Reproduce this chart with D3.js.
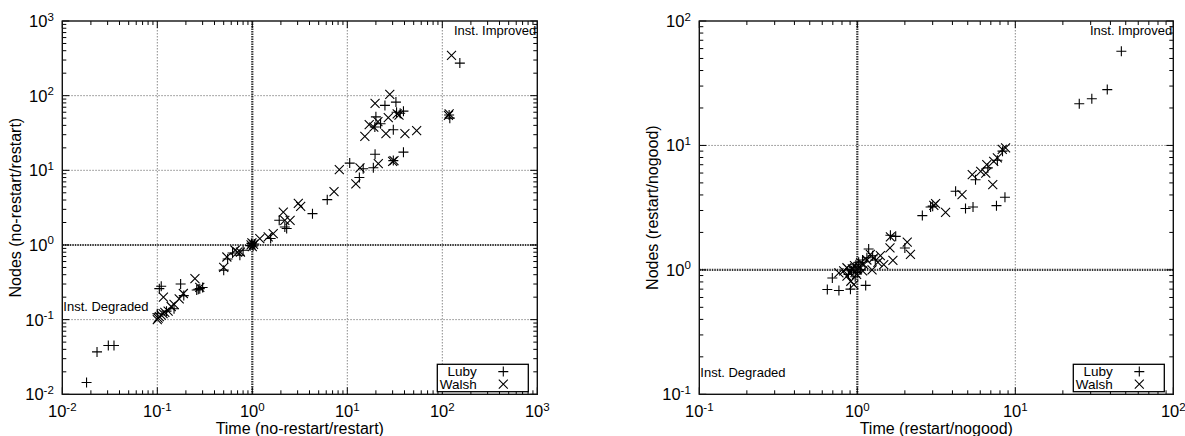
<!DOCTYPE html>
<html>
<head>
<meta charset="utf-8">
<script src="https://cdn.jsdelivr.net/npm/d3@7"></script>
<style>
  body { margin: 0; background: #fff; }
  svg text { font-family: "Liberation Sans", Arial, Helvetica, sans-serif; fill: #000; }
</style>
</head>
<body>
<div id="graph"></div>
<script>
// ---- data ----
// left panel: no-restart vs restart, [time ratio, nodes ratio]
var lubyLeft = [
  [0.018,0.0144],[0.0232,0.037],[0.0305,0.045],[0.035,0.045],
  [0.10,0.12],[0.105,0.26],[0.11,0.28],[0.125,0.13],[0.15,0.14],[0.176,0.30],[0.19,0.21],
  [0.26,0.25],[0.28,0.26],[0.30,0.27],[0.27,0.255],
  [0.5,0.46],[0.55,0.65],[0.62,0.78],[0.74,0.73],[0.8,0.85],
  [0.95,0.98],[1.0,1.0],[1.02,0.97],[0.98,1.05],[1.05,1.03],
  [1.56,1.22],[1.92,2.14],[2.2,1.74],[2.3,1.66],
  [4.3,2.63],[6.15,4.05],[10.6,12.5],[13.4,8.0],[14.7,10.5],[18.8,10.8],[19.6,16.4],[30.5,13.5],[39,17.5],
  [19.5,38],[20,52],[22.4,42],[24.9,74],[30.5,35],[32.5,82],[39,62],[36,58],[33,60],
  [118,55],[120,50],[153,273]
];
var walshLeft = [
  [0.1,0.1],[0.102,0.105],[0.105,0.11],[0.11,0.115],[0.115,0.12],[0.12,0.125],[0.13,0.13],[0.14,0.15],[0.15,0.16],
  [0.116,0.2],[0.17,0.19],[0.188,0.224],[0.249,0.355],[0.28,0.27],
  [0.5,0.5],[0.54,0.69],[0.66,0.85],[0.7,0.8],[0.75,0.8],
  [0.97,1.0],[1.0,0.95],[1.03,1.02],[0.99,1.07],
  [1.2,1.22],[1.47,1.28],[1.66,1.42],[2.12,2.76],[2.2,2.14],[2.5,2.14],[3.05,3.6],[3.23,3.3],
  [7.25,5.2],[8.24,10.2],[12.3,6.6],[13.6,10.8],[21.2,12.3],[30,13.2],[31,13.5],
  [15.3,28.5],[17,41],[19,38],[27,50.8],[25.5,31],[28,104],[19.6,79],[33.5,57],[40.4,31],[53.7,34],[35,55],[21,45],
  [116,54.5],[118,57],[125,346]
];
// right panel: restart vs nogood
var lubyRight = [
  [0.646,0.695],[0.695,0.86],[0.765,0.682],[0.905,0.70],[1.13,0.75],
  [0.88,0.92],[0.92,0.98],[0.95,1.05],[0.98,1.1],[1.0,0.95],[1.02,1.15],[1.05,1.0],[0.9,1.0],
  [1.08,1.2],[1.15,1.25],[1.18,1.47],[1.25,1.3],[1.3,1.2],[0.97,0.88],
  [1.62,1.9],[1.75,1.86],[2.0,1.5],[2.58,2.73],[2.91,3.2],[3.0,3.25],[4.19,4.28],[4.84,3.11],[5.4,3.2],
  [5.6,5.3],[6.7,6.6],[7.6,3.28],[8.6,3.83],[8.3,9.0],[7.7,7.6],
  [25.4,21.6],[30.5,23.7],[38.2,28.1],[46.9,57.2]
];
var walshRight = [
  [0.765,0.946],[0.86,0.89],[0.86,1.04],[0.91,0.81],[0.95,0.76],[0.82,0.98],
  [0.9,0.95],[0.93,1.02],[0.96,1.08],[0.99,0.92],[1.0,1.0],[1.03,1.06],[1.05,1.14],[1.08,0.98],[1.1,1.1],
  [1.21,1.33],[1.27,1.25],[1.24,1.0],[1.35,1.15],[1.47,1.10],[1.4,1.3],[1.15,1.2],
  [1.61,1.5],[1.62,1.84],[1.68,1.19],[2.07,1.67],[2.17,1.33],
  [3.13,3.41],[3.05,3.3],[3.62,2.9],[4.6,4.03],[5.34,5.83],[6.04,6.2],[6.5,6.0],[6.6,7.0],
  [7.2,4.85],[7.3,7.45],[7.7,7.95],[8.27,9.28],[8.68,9.57]
];
var seriesNames = ["Luby", "Walsh"];
var panels = [
  {left: 62.3, right: 537.3, xDom: [0.01, 1000], yDom: [0.01, 1000],
   xTitle: "Time (no-restart/restart)", yTitle: "Nodes (no-restart/restart)", yTitleX: 15,
   luby: lubyLeft, walsh: walshLeft, degradedY: 311},
  {left: 699.3, right: 1173.3, xDom: [0.1, 100], yDom: [0.1, 100],
   xTitle: "Time (restart/nogood)", yTitle: "Nodes (restart/nogood)", yTitleX: 652,
   luby: lubyRight, walsh: walshRight, degradedY: 376.5}
];
var plotTop = 21, plotBottom = 394.3;

var svg = d3.select("#graph").append("svg")
  .attr("width", 1185).attr("height", 436);

function sup(sel, e) {
  sel.append("tspan").text("10");
  sel.append("tspan").attr("dy", -6.5).style("font-size", "11.5px").text(e);
}

panels.forEach(function(p) {
  var x = d3.scaleLog().domain(p.xDom).range([p.left, p.right]);
  var y = d3.scaleLog().domain(p.yDom).range([plotBottom, plotTop]);
  var g = svg.append("g");
  var xMaj = d3.range(Math.log10(p.xDom[0]), Math.log10(p.xDom[1]) + 1).map(function(e){ return Math.pow(10, Math.round(e)); });
  var yMaj = d3.range(Math.log10(p.yDom[0]), Math.log10(p.yDom[1]) + 1).map(function(e){ return Math.pow(10, Math.round(e)); });
  var isMaj = function(v) { return Math.abs(Math.log10(v) - Math.round(Math.log10(v))) < 1e-6; };

  // grid
  g.selectAll(".gx").data(xMaj.slice(1, -1).filter(function(v){ return v != 1; })).enter().append("line")
    .attr("x1", x).attr("x2", x).attr("y1", plotTop).attr("y2", plotBottom)
    .attr("stroke", "#8a8a8a").attr("stroke-width", 1).attr("stroke-dasharray", "1.5,1.5");
  g.selectAll(".gy").data(yMaj.slice(1, -1).filter(function(v){ return v != 1; })).enter().append("line")
    .attr("y1", y).attr("y2", y).attr("x1", p.left).attr("x2", p.right)
    .attr("stroke", "#8a8a8a").attr("stroke-width", 1).attr("stroke-dasharray", "1.5,1.5");
  // the 1:1 lines
  g.append("line").attr("x1", x(1)).attr("x2", x(1)).attr("y1", plotTop).attr("y2", plotBottom)
    .attr("stroke", "#333").attr("stroke-width", 2.2).attr("stroke-dasharray", "1.5,1");
  g.append("line").attr("y1", y(1)).attr("y2", y(1)).attr("x1", p.left).attr("x2", p.right)
    .attr("stroke", "#333").attr("stroke-width", 2.2).attr("stroke-dasharray", "1.5,1");

  // ticks (mirrored, with minors)
  x.ticks().forEach(function(v) {
    var len = isMaj(v) ? 7 : 4;
    g.append("line").attr("x1", x(v)).attr("x2", x(v)).attr("y1", plotBottom).attr("y2", plotBottom - len).attr("stroke", "#000");
    g.append("line").attr("x1", x(v)).attr("x2", x(v)).attr("y1", plotTop).attr("y2", plotTop + len).attr("stroke", "#000");
  });
  y.ticks().forEach(function(v) {
    var len = isMaj(v) ? 7 : 4;
    g.append("line").attr("y1", y(v)).attr("y2", y(v)).attr("x1", p.left).attr("x2", p.left + len).attr("stroke", "#000");
    g.append("line").attr("y1", y(v)).attr("y2", y(v)).attr("x1", p.right).attr("x2", p.right - len).attr("stroke", "#000");
  });

  // frame
  g.append("rect").attr("x", p.left).attr("y", plotTop)
    .attr("width", p.right - p.left).attr("height", plotBottom - plotTop)
    .attr("fill", "none").attr("stroke", "#111").attr("stroke-width", 1.4);

  // tick labels
  xMaj.forEach(function(v) {
    var t = g.append("text").attr("x", x(v)).attr("y", 417).attr("text-anchor", "middle")
      .style("font-size", "16.5px");
    sup(t, Math.round(Math.log10(v)));
  });
  yMaj.forEach(function(v) {
    var t = g.append("text").attr("x", p.left - 8.5).attr("y", y(v) + 6).attr("text-anchor", "end")
      .style("font-size", "16.5px");
    sup(t, Math.round(Math.log10(v)));
  });

  // axis titles
  g.append("text").attr("x", (p.left + p.right) / 2).attr("y", 434).attr("text-anchor", "middle")
    .style("font-size", "16px").text(p.xTitle);
  g.append("text").attr("transform", "translate(" + (p.yTitleX + 6) + "," + ((plotTop + plotBottom) / 2) + ") rotate(-90)")
    .attr("text-anchor", "middle").style("font-size", "16px").text(p.yTitle);

  // corner labels
  g.append("text").attr("x", p.right - 1).attr("y", plotTop + 13.5).attr("text-anchor", "end")
    .style("font-size", "13px").text("Inst. Improved");
  g.append("text").attr("x", p.left + 1).attr("y", p.degradedY).attr("text-anchor", "start")
    .style("font-size", "13px").text("Inst. Degraded");

  // points
  var s = 5;
  g.selectAll(".luby").data(p.luby).enter().append("path")
    .attr("d", function(d) { var cx = x(d[0]), cy = y(d[1]);
      return "M" + (cx - s) + "," + cy + "H" + (cx + s) + "M" + cx + "," + (cy - s) + "V" + (cy + s); })
    .attr("stroke", "#000").attr("stroke-width", 1.1).attr("fill", "none");
  var w = 4.5;
  g.selectAll(".walsh").data(p.walsh).enter().append("path")
    .attr("d", function(d) { var cx = x(d[0]), cy = y(d[1]);
      return "M" + (cx - w) + "," + (cy - w) + "L" + (cx + w) + "," + (cy + w) +
             "M" + (cx - w) + "," + (cy + w) + "L" + (cx + w) + "," + (cy - w); })
    .attr("stroke", "#000").attr("stroke-width", 1.1).attr("fill", "none");

  // legend
  var lx = p.right - 100, ly = 364.3;
  g.append("rect").attr("x", lx).attr("y", ly).attr("width", 91).attr("height", 27.4)
    .attr("fill", "#fff").attr("stroke", "#000").attr("stroke-width", 1.3);
  seriesNames.forEach(function(n, i) {
    var by = ly + 11.8 + i * 12.6;
    g.append("text").attr("x", lx + 39.5).attr("y", by).attr("text-anchor", "end")
      .style("font-size", "13.5px").text(n);
    var cx = lx + 66, cy = by - 4.5;
    g.append("path").attr("d", i == 0
        ? "M" + (cx - s) + "," + cy + "H" + (cx + s) + "M" + cx + "," + (cy - s) + "V" + (cy + s)
        : "M" + (cx - w) + "," + (cy - w) + "L" + (cx + w) + "," + (cy + w) + "M" + (cx - w) + "," + (cy + w) + "L" + (cx + w) + "," + (cy - w))
      .attr("stroke", "#000").attr("stroke-width", 1.1).attr("fill", "none");
  });
});
</script>
</body>
</html>
